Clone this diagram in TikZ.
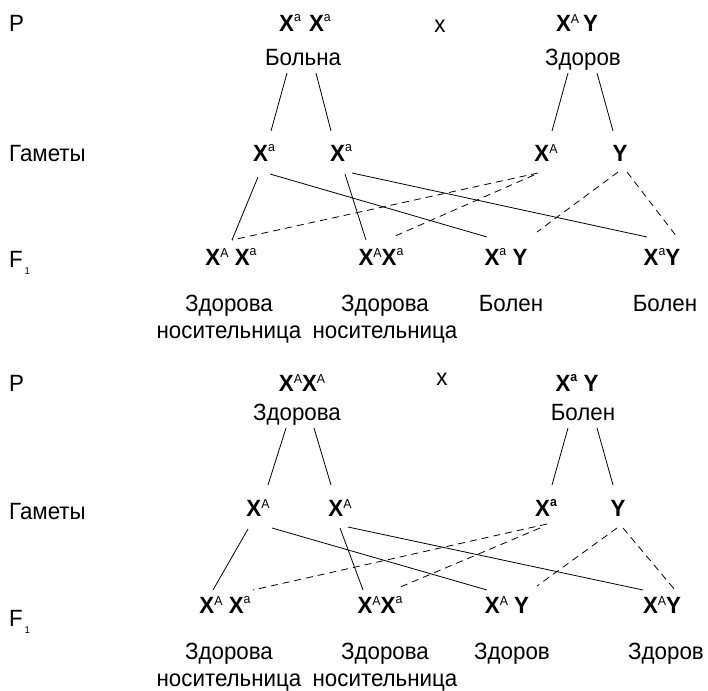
\documentclass[tikz,border=0pt]{standalone}
\usepackage{fontspec}
\setmainfont[FakeStretch=0.95]{Liberation Sans}
\newcommand{\supfont}{\fontsize{13}{13}\selectfont}
\newcommand{\XA}{\textbf{X}\raisebox{7.5pt}{\supfont A}}
\newcommand{\Xa}{\textbf{X}\raisebox{10pt}{\supfont a}}
\newcommand{\Xab}{\textbf{X}\raisebox{10pt}{\supfont\bfseries a}}
\newcommand{\Yb}{\textbf{Y}}
\tikzset{
  every node/.style={font=\fontsize{23.5}{27}\selectfont},
  rowlabel/.style={anchor=west, text height=16.8pt, text depth=0pt, inner sep=0pt},
  geno/.style={text height=16.8pt, text depth=0pt, inner sep=0pt},
  pheno/.style={align=center, anchor=base, inner sep=0pt},
  link/.style={line width=0.8pt},
  dlink/.style={line width=0.8pt, dash pattern=on 7pt off 5pt}
}
\begin{document}
\begin{tikzpicture}[x=1pt,y=-1pt]
\useasboundingbox (0,0) rectangle (708,690);
% first cross
\node[rowlabel] (upP) at (9,23) {P};
\node[geno] (upMom) at (305,23) {\Xa\hspace{8pt}\Xa};
\node[geno] (upCross) at (440,24) {x};
\node[geno] (upDad) at (577,23) {\XA\,\Yb};
\node[geno] (upMomPh) at (303,57) {Больна};
\node[geno] (upDadPh) at (583,57) {Здоров};
\node[rowlabel] (upGamLbl) at (9,153) {Гаметы};
\node[geno] (upG1) at (264,153) {\Xa};
\node[geno] (upG2) at (341,153) {\Xa};
\node[geno] (upG3) at (546,153) {\XA};
\node[geno] (upG4) at (620,153) {\Yb};
\node[rowlabel] (upF1Lbl) at (9,259) {F\raisebox{-7pt}{\fontsize{10}{10}\selectfont\,1}};
\node[geno] (upF1) at (231,257) {\XA\ \Xa};
\node[geno] (upF2) at (381,257) {\XA\Xa};
\node[geno] (upF3) at (506,257) {\Xa\ \Yb};
\node[geno] (upF4) at (662,257) {\Xa\Yb};
\node[pheno] (upT1) at (229,338) {Здорова\\носительница};
\node[pheno] (upT2) at (385,338) {Здорова\\носительница};
\node[pheno] (upT3) at (511,311) {Болен};
\node[pheno] (upT4) at (665,311) {Болен};

\draw[link] ([shift={(-16,16)}]upMomPh.center) -- ([shift={(7,-22)}]upG1.center);
\draw[link] ([shift={(13,16)}]upMomPh.center) -- ([shift={(-10,-22)}]upG2.center);
\draw[link] ([shift={(-15,16)}]upDadPh.center) -- ([shift={(6,-22)}]upG3.center);
\draw[link] ([shift={(14,16)}]upDadPh.center) -- ([shift={(-7,-22)}]upG4.center);

\draw[link] ([shift={(-6,24)}]upG1.center) -- ([shift={(1,-17)}]upF1.center);
\draw[link] ([shift={(6,21)}]upG1.center) -- ([shift={(-19,-20)}]upF3.center);
\draw[link] ([shift={(4,21)}]upG2.center) -- ([shift={(-15,-17)}]upF2.center);
\draw[link] ([shift={(11,20)}]upG2.center) -- ([shift={(-15,-20)}]upF4.center);
\draw[dlink] ([shift={(-8,20)}]upG3.center) -- ([shift={(1,-17)}]upF1.center);
\draw[dlink] ([shift={(-12,22)}]upG3.center) -- ([shift={(12,-20)}]upF2.center);
\draw[dlink] ([shift={(-2,19)}]upG4.center) -- ([shift={(31,-25)}]upF3.center);
\draw[dlink] ([shift={(7,19)}]upG4.center) -- ([shift={(15,-20)}]upF4.center);

% second cross
\node[rowlabel] (loP) at (9,383) {P};
\node[geno] (loMom) at (302,383) {\XA\XA};
\node[geno] (loCross) at (442,377) {x};
\node[geno] (loDad) at (577,383) {\Xab\ \Yb};
\node[geno] (loMomPh) at (297,412) {Здорова};
\node[geno] (loDadPh) at (583,412) {Болен};
\node[rowlabel] (loGamLbl) at (9,511) {Гаметы};
\node[geno] (loG1) at (258,508) {\XA};
\node[geno] (loG2) at (340,508) {\XA};
\node[geno] (loG3) at (546,508) {\Xab};
\node[geno] (loG4) at (618,508) {\Yb};
\node[rowlabel] (loF1Lbl) at (9,618) {F\raisebox{-7pt}{\fontsize{10}{10}\selectfont\,1}};
\node[geno] (loF1) at (225,605) {\XA\ \Xa};
\node[geno] (loF2) at (380,605) {\XA\Xa};
\node[geno] (loF3) at (507,605) {\XA\ \Yb};
\node[geno] (loF4) at (662,605) {\XA\Yb};
\node[pheno] (loT1) at (229,686) {Здорова\\носительница};
\node[pheno] (loT2) at (385,686) {Здорова\\носительница};
\node[pheno] (loT3) at (512,659) {Здоров};
\node[pheno] (loT4) at (666,659) {Здоров};

\draw[link] ([shift={(-11,16)}]loMomPh.center) -- ([shift={(10,-23)}]loG1.center);
\draw[link] ([shift={(17,16)}]loMomPh.center) -- ([shift={(-9,-23)}]loG2.center);
\draw[link] ([shift={(-15,16)}]loDadPh.center) -- ([shift={(6,-23)}]loG3.center);
\draw[link] ([shift={(14,16)}]loDadPh.center) -- ([shift={(-5,-23)}]loG4.center);

\draw[link] ([shift={(-10,21)}]loG1.center) -- ([shift={(-12,-15)}]loF1.center);
\draw[link] ([shift={(14,20)}]loG1.center) -- ([shift={(-20,-15)}]loF3.center);
\draw[link] ([shift={(0,20)}]loG2.center) -- ([shift={(-17,-15)}]loF2.center);
\draw[link] ([shift={(8,19)}]loG2.center) -- ([shift={(-19,-15)}]loF4.center);
\draw[dlink] ([shift={(1,16)}]loG3.center) -- ([shift={(28,-15)}]loF1.center);
\draw[dlink] ([shift={(-6,20)}]loG3.center) -- ([shift={(18,-17)}]loF2.center);
\draw[dlink] ([shift={(-1,20)}]loG4.center) -- ([shift={(30,-19)}]loF3.center);
\draw[dlink] ([shift={(5,20)}]loG4.center) -- ([shift={(13,-15)}]loF4.center);
\end{tikzpicture}
\end{document}
